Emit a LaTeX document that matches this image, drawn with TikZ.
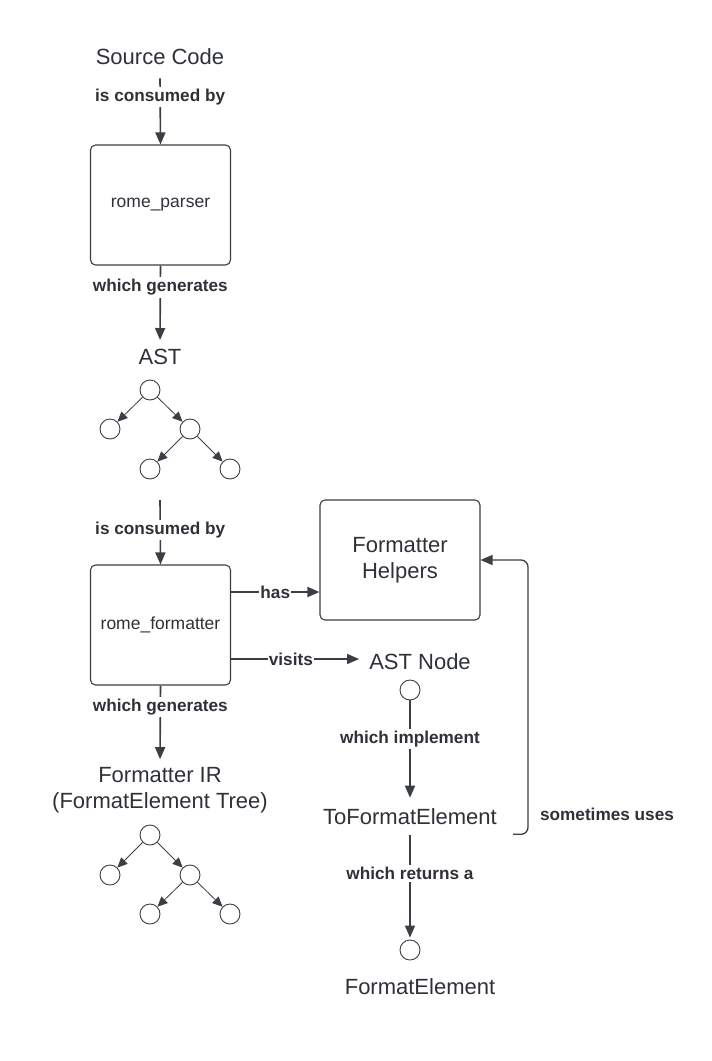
\documentclass[tikz,border=0pt]{standalone}
\usepackage{fontspec}
\setmainfont{Liberation Sans}
\usetikzlibrary{arrows.meta}
\definecolor{ink}{HTML}{3A3E45}
\definecolor{txt}{HTML}{2E3238}
\begin{document}
\begin{tikzpicture}[x=1pt,y=-1pt,
  big/.style={text=txt,font=\fontsize{22}{25.5}\selectfont,inner sep=2pt},
  mid/.style={text=txt,font=\fontsize{17.5}{20}\selectfont},
  lbl/.style={text=txt,font=\fontsize{17.2}{20}\selectfont\bfseries,fill=white,inner sep=2pt},
  box/.style={draw=ink,line width=1.1pt,rounded corners=5pt,minimum width=140pt,minimum height=120pt},
  conn/.style={draw=ink,line width=1.6pt,-{Triangle[length=12pt,width=10pt]}},
  tn/.style={circle,draw=ink,line width=0.9pt,minimum size=20pt,inner sep=0pt},
  te/.style={draw=ink,line width=0.8pt,-{Triangle[length=10pt,width=9pt]}},
]
\useasboundingbox (0,0) rectangle (712,1061);
\fill[white] (0,0) rectangle (712,1061);

% left column
\node[big] (src) at (160,57) {Source Code};
\node[box,mid] (parser) at (160.5,205) {rome\_parser};
\draw[conn] ([yshift=-11pt]src.south) -- node[lbl,pos=0.29]{is consumed by} (parser.north);

\node[big] (ast) at (160,357) {AST};
\draw[conn,shorten >=7pt] (parser.south) -- node[lbl,pos=0.27]{which generates} (ast.north);

% AST tree
\node[tn] (a1) at (150,390) {};
\node[tn] (a2) at (110,429) {};
\node[tn] (a3) at (190,429) {};
\node[tn] (a4) at (150,469) {};
\node[tn] (a5) at (230,469) {};
\draw[te] (a1) -- (a2);
\draw[te] (a1) -- (a3);
\draw[te] (a3) -- (a4);
\draw[te] (a3) -- (a5);

\coordinate (astout) at (160,500);
\node[box,mid] (fmt) at (160.5,625) {rome\_formatter};
\draw[conn] (astout) -- node[lbl,pos=0.46]{is consumed by} (fmt.north);

\node[big,align=center] (ir) at (160,790) {Formatter IR\\(FormatElement Tree)};
\draw[conn,shorten >=6pt] (fmt.south) -- node[lbl,pos=0.27]{which generates} (ir.north);

% IR tree
\node[tn] (b1) at (150,835) {};
\node[tn] (b2) at (110,875) {};
\node[tn] (b3) at (190,875) {};
\node[tn] (b4) at (150,914) {};
\node[tn] (b5) at (230,914) {};
\draw[te] (b1) -- (b2);
\draw[te] (b1) -- (b3);
\draw[te] (b3) -- (b4);
\draw[te] (b3) -- (b5);

% right column
\node[draw=ink,line width=1.1pt,rounded corners=5pt,minimum width=160pt,minimum height=120pt,
      big,align=center] (helpers) at (400,560) {Formatter\\Helpers};
\draw[conn] ([yshift=33pt]fmt.east) -- node[lbl,pos=0.5,inner sep=1pt]{has} ([yshift=33pt]fmt.east -| helpers.west);

\node[big] (astnode) at (420,662) {AST Node};
\draw[conn,shorten >=8pt] ([yshift=-34pt]fmt.east) -- node[lbl,pos=0.44,inner sep=1pt]{visits} ([yshift=-34pt]fmt.east -| astnode.west);

\node[tn] (c1) at (410,690) {};
\node[big] (tofe) at (410,817) {ToFormatElement};
\draw[conn,shorten >=9pt] (c1.south) -- node[lbl,pos=0.36]{which implement} (tofe.north);

\node[tn] (c2) at (410,950) {};
\draw[conn,shorten <=8pt,shorten >=2pt] (tofe.south) -- node[lbl,pos=0.41]{which returns a} (c2.north);
\node[big] (fe) at (420,987) {FormatElement};

\draw[conn,line width=1.3pt,rounded corners=7pt] ([xshift=14pt,yshift=-7pt]tofe.south east) -- ++(15,0) |- (helpers.east);
\node[lbl] (su) at (607,814) {sometimes uses};
\end{tikzpicture}
\end{document}
